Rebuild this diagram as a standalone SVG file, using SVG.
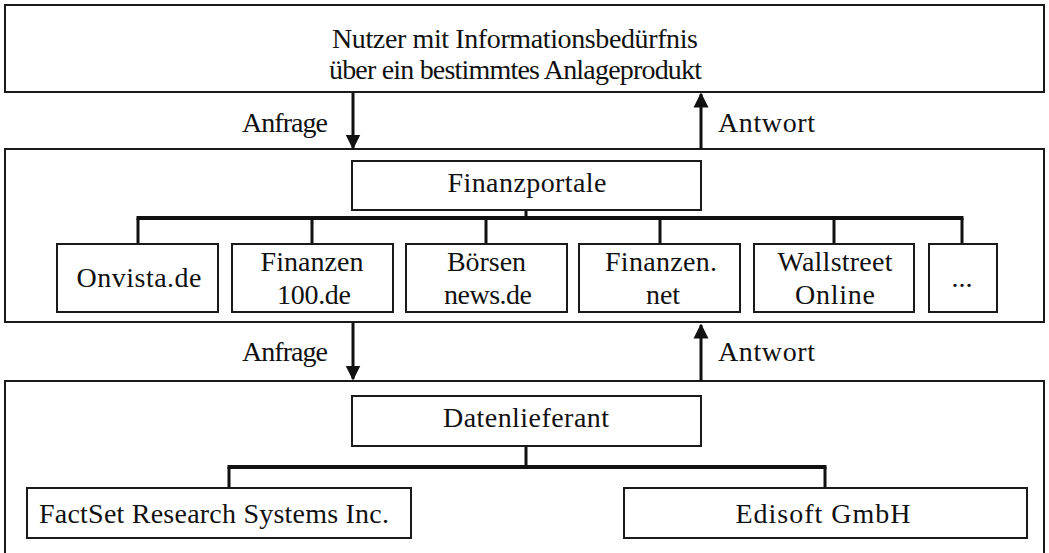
<svg xmlns="http://www.w3.org/2000/svg" width="1049" height="553" viewBox="0 0 1049 553">
<style>
.box{fill:#fff;stroke:#1a1a1a;stroke-width:2}
.frame{fill:none;stroke:#1a1a1a;stroke-width:2}
.t{font-family:"Liberation Serif","Times New Roman",serif;font-size:28px;fill:#111;text-anchor:middle}
.tl{font-family:"Liberation Serif","Times New Roman",serif;font-size:28px;fill:#111}
.bus{stroke:#111;stroke-width:4;fill:none}
.drop{stroke:#111;stroke-width:3;fill:none}
.arr{stroke:#111;stroke-width:3;fill:none}
</style>
<defs>
<marker id="ah" viewBox="0 0 10 10" refX="9" refY="5" markerWidth="5" markerHeight="5.7" orient="auto" markerUnits="strokeWidth">
<path d="M0,0 L10,5 L0,10 z" fill="#111"/>
</marker>
</defs>
<rect width="1049" height="553" fill="#fff"/>
<g id="nutzer">
<rect class="box" x="5" y="5" width="1039" height="87"/>
<text class="t" x="515" y="48" textLength="366" lengthAdjust="spacing">Nutzer mit Informationsbedürfnis</text>
<text class="t" x="515.5" y="79" textLength="373" lengthAdjust="spacing">über ein bestimmtes Anlageprodukt</text>
</g>
<g id="portale-frame">
<rect class="frame" x="5" y="149" width="1039" height="173"/>
</g>
<g id="daten-frame">
<path class="frame" d="M5,560 V381 H1044 V560"/>
</g>
<g id="connectors">
<line class="arr" x1="353" y1="93" x2="353" y2="148" marker-end="url(#ah)"/>
<line class="arr" x1="701" y1="149" x2="701" y2="94" marker-end="url(#ah)"/>
<line class="arr" x1="353" y1="323" x2="353" y2="379" marker-end="url(#ah)"/>
<line class="arr" x1="701" y1="381" x2="701" y2="325" marker-end="url(#ah)"/>
<line class="drop" x1="526" y1="210" x2="526" y2="218"/>
<line class="bus" x1="136.5" y1="218" x2="963.5" y2="218"/>
<line class="drop" x1="138" y1="218" x2="138" y2="244"/>
<line class="drop" x1="312" y1="218" x2="312" y2="244"/>
<line class="drop" x1="486" y1="218" x2="486" y2="244"/>
<line class="drop" x1="660" y1="218" x2="660" y2="244"/>
<line class="drop" x1="834" y1="218" x2="834" y2="244"/>
<line class="drop" x1="962" y1="218" x2="962" y2="244"/>
<line class="drop" x1="526" y1="446" x2="526" y2="467"/>
<line class="bus" x1="227.5" y1="467" x2="826.5" y2="467"/>
<line class="drop" x1="229" y1="467" x2="229" y2="488"/>
<line class="drop" x1="825" y1="467" x2="825" y2="488"/>
</g>
<g id="labels">
<text class="t" x="285" y="132" textLength="86" lengthAdjust="spacing">Anfrage</text>
<text class="tl" x="718" y="132" textLength="97" lengthAdjust="spacing">Antwort</text>
<text class="t" x="285" y="361" textLength="86" lengthAdjust="spacing">Anfrage</text>
<text class="tl" x="718" y="361" textLength="97" lengthAdjust="spacing">Antwort</text>
</g>
<g id="finanzportale">
<rect class="box" x="352" y="161" width="349" height="49"/>
<text class="t" x="527" y="192" textLength="159" lengthAdjust="spacing">Finanzportale</text>
</g>
<g id="onvista">
<rect class="box" x="57" y="244" width="161" height="68"/>
<text class="t" x="139" y="287" textLength="125" lengthAdjust="spacing">Onvista.de</text>
</g>
<g id="finanzen100">
<rect class="box" x="232" y="244" width="161" height="68"/>
<text class="t" x="312" y="271" textLength="103" lengthAdjust="spacing">Finanzen</text>
<text class="t" x="314" y="304" textLength="74" lengthAdjust="spacing">100.de</text>
</g>
<g id="boersennews">
<rect class="box" x="406" y="244" width="161" height="68"/>
<text class="t" x="486.5" y="271" textLength="79" lengthAdjust="spacing">Börsen</text>
<text class="t" x="488" y="304" textLength="88" lengthAdjust="spacing">news.de</text>
</g>
<g id="finanzennet">
<rect class="box" x="579" y="244" width="161" height="68"/>
<text class="t" x="661" y="271" textLength="112" lengthAdjust="spacing">Finanzen.</text>
<text class="t" x="663" y="304" textLength="34" lengthAdjust="spacing">net</text>
</g>
<g id="wallstreet">
<rect class="box" x="754" y="244" width="160" height="68"/>
<text class="t" x="835" y="271" textLength="115" lengthAdjust="spacing">Wallstreet</text>
<text class="t" x="835" y="304" textLength="80" lengthAdjust="spacing">Online</text>
</g>
<g id="weitere">
<rect class="box" x="929" y="244" width="68" height="68"/>
<text class="t" x="962" y="287">...</text>
</g>
<g id="datenlieferant">
<rect class="box" x="352" y="396" width="349" height="50"/>
<text class="t" x="526" y="427" textLength="166" lengthAdjust="spacing">Datenlieferant</text>
</g>
<g id="factset">
<rect class="box" x="27" y="488" width="384" height="50"/>
<text class="t" x="214" y="523" textLength="350" lengthAdjust="spacing">FactSet Research Systems Inc.</text>
</g>
<g id="edisoft">
<rect class="box" x="624" y="488" width="403" height="50"/>
<text class="t" x="823" y="523" textLength="175" lengthAdjust="spacing">Edisoft GmbH</text>
</g>
</svg>
